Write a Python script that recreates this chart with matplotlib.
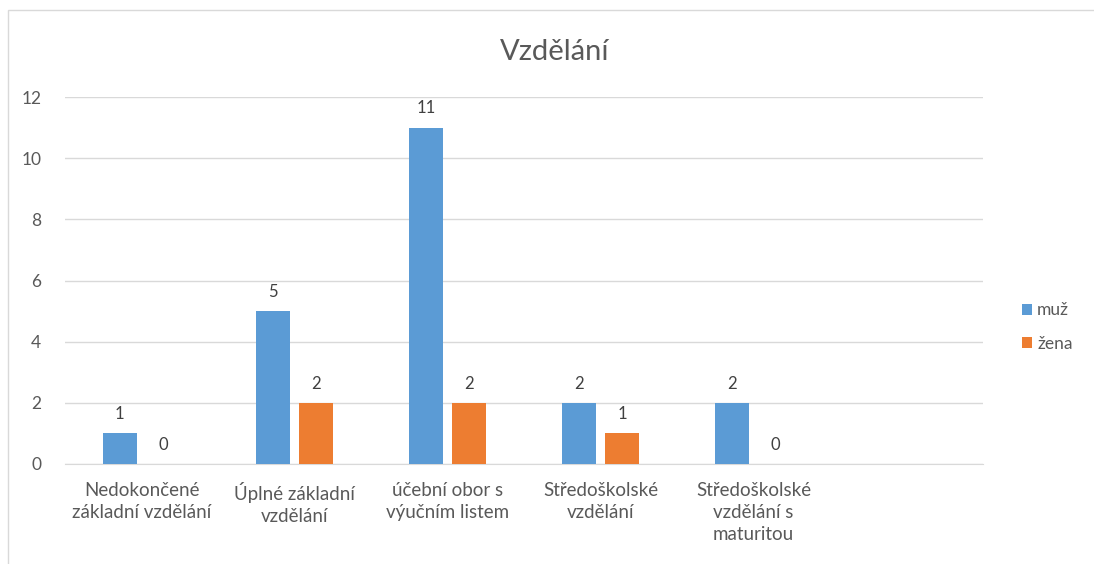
import matplotlib.pyplot as plt
import numpy as np
from matplotlib.patches import Rectangle

plt.rcParams['font.family'] = ['Lato', 'DejaVu Sans']

categories = ['Nedokončené\nzákladní vzdělání', 'Úplné základní\nvzdělání',
              'účební obor s\nvýučním listem', 'Středoškolské\nvzdělání',
              'Středoškolské\nvzdělání s\nmaturitou', '']
muz = [1, 5, 11, 2, 2, None]
zena = [0, 2, 2, 1, 0, None]
series_names = ['muž', 'žena']
colors = ['#5B9BD5', '#ED7D31']
text_col = '#595959'

fig = plt.figure(figsize=(10.94, 5.64), dpi=100)
ax = fig.add_axes([65 / 1094, 100 / 564, 918 / 1094, 367 / 564])

# chart frame
fig.patches.append(Rectangle((8 / 1094, -0.1), 1.2, 554 / 564 + 0.1,
                             transform=fig.transFigure, fill=False,
                             edgecolor='#D9D9D9', linewidth=1))

x = np.arange(len(categories))
w = 0.222
off = 0.142
for vals, sign, col, name in [(muz, -1, colors[0], series_names[0]),
                              (zena, 1, colors[1], series_names[1])]:
    idx = [i for i, v in enumerate(vals) if v is not None]
    hs = [vals[i] for i in idx]
    bars = ax.bar(x[idx] + sign * off, hs, width=w, color=col, label=name, zorder=3)
    for b, v in zip(bars, hs):
        ax.annotate(str(v), (b.get_x() + b.get_width() / 2, v),
                    xytext=(0, 8), textcoords='offset points',
                    ha='center', va='bottom', fontsize=12, color='#404040')

ax.set_xlim(-0.5, len(categories) - 0.5)
ax.set_ylim(0, 12)
ax.set_yticks(range(0, 13, 2))
ax.set_xticks(x)
ax.set_xticklabels(categories, fontsize=13.5, color=text_col, linespacing=1.35)
ax.tick_params(axis='y', labelsize=12.5, labelcolor=text_col, length=0, pad=17)
ax.tick_params(axis='x', length=0, pad=13)
ax.grid(axis='y', color='#D9D9D9', linewidth=1, zorder=0)
for s in ['top', 'right', 'left']:
    ax.spines[s].set_visible(False)
ax.spines['bottom'].set_color('#D9D9D9')

fig.text(555 / 1094, 1 - 52 / 564, 'Vzdělání', ha='center', va='center',
         fontsize=21, color=text_col)

ax.legend(loc='center left', bbox_to_anchor=(1006 / 1094, 1 - 327 / 564),
          bbox_transform=fig.transFigure, frameon=False, fontsize=12.5,
          labelcolor=text_col, handlelength=0.6, handleheight=0.6,
          handletextpad=0.3, labelspacing=1.0)

fig.savefig('out.png', dpi=100)
